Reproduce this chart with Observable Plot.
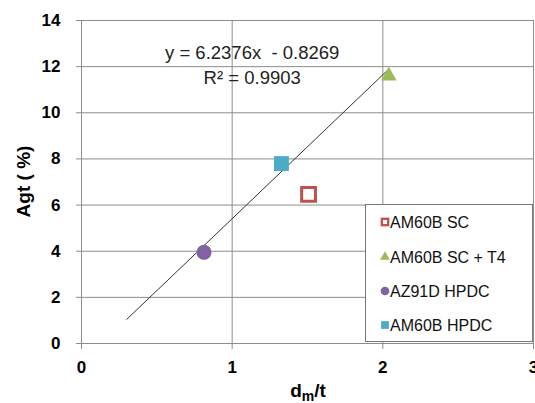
<!DOCTYPE html>
<html>
<head>
<meta charset="utf-8">
<script src="https://cdn.jsdelivr.net/npm/d3@7"></script>
<script src="https://cdn.jsdelivr.net/npm/@observablehq/plot@0.6"></script>
<style>
  html, body { margin: 0; padding: 0; background: #fff; }
  #chart svg { display: block; }
</style>
</head>
<body>
<div id="chart"></div>
<script>
// ---- data ----
const series = ["AM60B SC", "AM60B SC + T4", "AZ91D HPDC", "AM60B HPDC"];
const xValues = [1.507, 2.04, 0.813, 1.327];
const yValues = [6.46, 11.6, 3.95, 7.8];
const xTicks = [0, 1, 2, 3];
const yTicks = [0, 2, 4, 6, 8, 10, 12, 14];
const trendSlope = 6.2376;
const trendIntercept = -0.8269;
const trendRange = [0.3, 2.04];
const eqTexts = ["y = 6.2376x  - 0.8269", "R² = 0.9903"];
const eqX = [1.133, 1.133];
const eqY = [12.57, 11.5];

// ---- styles ----
const colors = {"AM60B SC": "#C0504D", "AM60B SC + T4": "#9BBB59", "AZ91D HPDC": "#8064A2", "AM60B HPDC": "#4BACC6"};
const symbols = {"AM60B SC": "square", "AM60B SC + T4": "triangle", "AZ91D HPDC": "circle", "AM60B HPDC": "square"};
const radii = {"AM60B SC": 7.8, "AM60B SC + T4": 5.8, "AZ91D HPDC": 7.5, "AM60B HPDC": 8.4};

const points = series.map((s, i) => ({s, x: xValues[i], y: yValues[i]}));
const trend = trendRange.map(x => ({x, y: trendSlope * x + trendIntercept}));
const eq = eqTexts.map((t, i) => ({t, x: eqX[i], y: eqY[i]}));

const W = 535, H = 403, mL = 81, mR = 2, mT = 20, mB = 60;
const grid = "#8c8c8c";
const FONT = "'Liberation Sans', Arial, sans-serif";

const dotMarks = series.map(s => {
  const open = s === "AM60B SC";
  return Plot.dot(points.filter(d => d.s === s), {
    x: "x", y: "y", symbol: symbols[s], r: radii[s],
    fill: open ? "#fff" : colors[s],
    stroke: open ? colors[s] : "none",
    strokeWidth: open ? 3 : 0
  });
});

const plot = Plot.plot({
  width: W, height: H,
  marginLeft: mL, marginRight: mR, marginTop: mT, marginBottom: mB,
  style: {fontFamily: FONT, background: "#fff", color: "#000"},
  x: {domain: [0, 3]},
  y: {domain: [0, 14]},
  marks: [
    Plot.gridX(xTicks.slice(1), {stroke: grid, strokeOpacity: 1}),
    Plot.gridY(yTicks.slice(1), {stroke: grid, strokeOpacity: 1}),
    Plot.ruleX([0], {stroke: grid}),
    Plot.ruleY([0], {stroke: grid}),
    Plot.axisY(yTicks, {tickSize: 5, tickPadding: 16, stroke: grid, fill: "#000", fontSize: 17, fontWeight: "bold", label: null, tickFormat: d3.format("d")}),
    Plot.axisX(xTicks, {tickSize: 6, tickPadding: 11, stroke: grid, fill: "#000", fontSize: 17, fontWeight: "bold", label: null, tickFormat: d3.format("d")}),
    Plot.line(trend, {x: "x", y: "y", stroke: "#333", strokeWidth: 1}),
    ...dotMarks,
    Plot.text(eq, {x: "x", y: "y", text: "t", fontSize: 18.5, fill: "#222", textAnchor: "middle"})
  ]
});

document.getElementById("chart").appendChild(plot);

const svg = d3.select(plot);
// y label
svg.append("text")
  .attr("transform", `translate(25,${(mT + H - mB) / 2}) rotate(-90)`)
  .attr("text-anchor", "middle").attr("dominant-baseline", "middle")
  .attr("font-weight", "bold").attr("font-size", 19)
  .attr("font-family", FONT)
  .text("Agt ( %)");
// x label with subscript
const xl = svg.append("text")
  .attr("x", (mL + W - mR) / 2 + 1).attr("y", 397)
  .attr("text-anchor", "middle")
  .attr("font-weight", "bold").attr("font-size", 19)
  .attr("font-family", FONT);
xl.append("tspan").text("d");
xl.append("tspan").attr("font-size", 14).attr("dy", 4).text("m");
xl.append("tspan").attr("dy", -4).text("/t");

// legend
const lg = svg.append("g").attr("font-family", FONT).attr("text-anchor", "start");
lg.append("rect").attr("x", 365.5).attr("y", 204.5).attr("width", 167).attr("height", 137)
  .attr("fill", "#fff").attr("stroke", "#777").attr("stroke-width", 1);
const rowY = [222, 257, 291, 325];
series.forEach((s, i) => {
  const g = lg.append("g").attr("transform", `translate(385,${rowY[i]})`);
  if (s === "AM60B SC") {
    g.append("rect").attr("x", -3.2).attr("y", -3.2).attr("width", 6.4).attr("height", 6.4)
      .attr("fill", "#fff").attr("stroke", colors[s]).attr("stroke-width", 2.3);
  } else {
    const sym = s === "AM60B SC + T4" ? d3.symbolTriangle : s === "AZ91D HPDC" ? d3.symbolCircle : d3.symbolSquare;
    g.append("path").attr("d", d3.symbol(sym, s === "AM60B SC + T4" ? 42 : 60)()).attr("fill", colors[s]);
  }
  g.append("text").attr("x", 5).attr("dy", "0.36em").attr("font-size", 16)
    .attr("text-anchor", "start").attr("fill", "#111").text(s);
});
</script>
</body>
</html>
